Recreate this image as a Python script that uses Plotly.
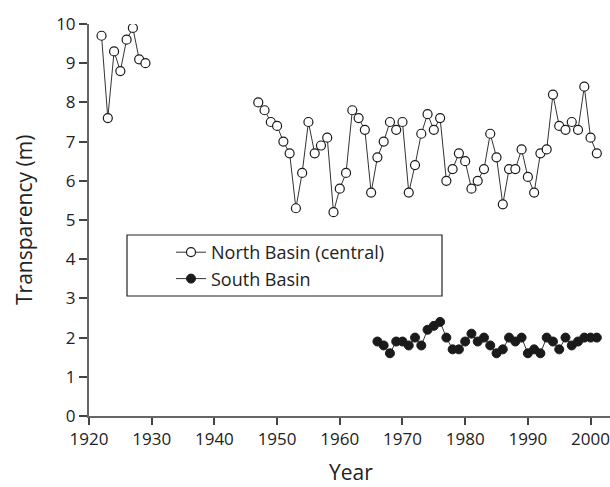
import plotly.graph_objects as go

# North Basin (central) transparency (m)
north_years_early = [1922, 1923, 1924, 1925, 1926, 1927, 1928, 1929]
north_vals_early = [9.7, 7.6, 9.3, 8.8, 9.6, 9.9, 9.1, 9.0]

north_years_late = list(range(1947, 2002))
north_vals_late = [8.0, 7.8, 7.5, 7.4, 7.0, 6.7, 5.3, 6.2, 7.5, 6.7,
                   6.9, 7.1, 5.2, 5.8, 6.2, 7.8, 7.6, 7.3, 5.7, 6.6,
                   7.0, 7.5, 7.3, 7.5, 5.7, 6.4, 7.2, 7.7, 7.3, 7.6,
                   6.0, 6.3, 6.7, 6.5, 5.8, 6.0, 6.3, 7.2, 6.6, 5.4,
                   6.3, 6.3, 6.8, 6.1, 5.7, 6.7, 6.8, 8.2, 7.4, 7.3,
                   7.5, 7.3, 8.4, 7.1, 6.7]

# South Basin transparency (m)
south_years = list(range(1966, 2002))
south_vals = [1.9, 1.8, 1.6, 1.9, 1.9, 1.8, 2.0, 1.8, 2.2, 2.3,
              2.4, 2.0, 1.7, 1.7, 1.9, 2.1, 1.9, 2.0, 1.8, 1.6,
              1.7, 2.0, 1.9, 2.0, 1.6, 1.7, 1.6, 2.0, 1.9, 1.7,
              2.0, 1.8, 1.9, 2.0, 2.0, 2.0]

x_ticks = [1920, 1930, 1940, 1950, 1960, 1970, 1980, 1990, 2000]
y_ticks = list(range(0, 11))

north_x = north_years_early + [None] + north_years_late
north_y = north_vals_early + [None] + north_vals_late

FONT = "Open Sans"

fig = go.Figure()
fig.add_trace(go.Scatter(
    x=north_x, y=north_y, mode="lines+markers", name="North Basin (central)",
    connectgaps=False,
    line=dict(color="#333333", width=1),
    marker=dict(symbol="circle", size=9, color="white",
                line=dict(color="#1a1a1a", width=1.2)),
))
fig.add_trace(go.Scatter(
    x=south_years, y=south_vals, mode="lines+markers", name="South Basin",
    line=dict(color="#333333", width=1),
    marker=dict(symbol="circle", size=9, color="#1a1a1a",
                line=dict(color="#1a1a1a", width=1)),
))

L, R, T, B = 89, 0, 24, 71
W, H = 610, 487
pw, ph = W - L - R, H - T - B

def px_x(p):
    return (p - L) / pw

def px_y(p):
    return (H - B - p) / ph

axis_common = dict(
    showline=True, linecolor="#666666", linewidth=2,
    ticks="outside", tickcolor="#444444", tickwidth=1.5,
    showgrid=False, zeroline=False, automargin=False,
    ticklabeloverflow="allow",
    tickfont=dict(family=FONT, size=17, color="#222222"),
)

fig.update_layout(
    width=W, height=H,
    margin=dict(l=L, r=R, t=T, b=B, pad=0),
    paper_bgcolor="white", plot_bgcolor="white",
    font=dict(family=FONT, color="#222222"),
    xaxis=dict(range=[1920, 2003.1], tickvals=x_ticks, ticklen=7, **axis_common),
    yaxis=dict(range=[0, 10], tickvals=y_ticks, ticklen=8, **axis_common),
    showlegend=True,
    legend=dict(x=px_x(171), y=px_y(234), xanchor="left", yanchor="top",
                bgcolor="rgba(0,0,0,0)", borderwidth=0,
                font=dict(family=FONT, size=18, color="#222222"),
                tracegroupgap=0),
    shapes=[dict(type="rect", xref="paper", yref="paper",
                 x0=px_x(127), x1=px_x(442), y0=px_y(296), y1=px_y(235),
                 line=dict(color="#222222", width=1.2), fillcolor="rgba(0,0,0,0)")],
    annotations=[
        dict(text="Year", xref="paper", yref="paper",
             x=px_x(351), y=px_y(472), xanchor="center", yanchor="middle",
             showarrow=False, font=dict(family=FONT, size=21, color="#222222")),
        dict(text="Transparency (m)", xref="paper", yref="paper",
             x=px_x(24), y=px_y(220), xanchor="center", yanchor="middle",
             textangle=-90, showarrow=False,
             font=dict(family=FONT, size=21, color="#222222")),
    ],
)

fig.write_html("out.html",
               config={"displayModeBar": False},
               post_script="document.body.style.margin='0';document.body.style.overflow='hidden';")
